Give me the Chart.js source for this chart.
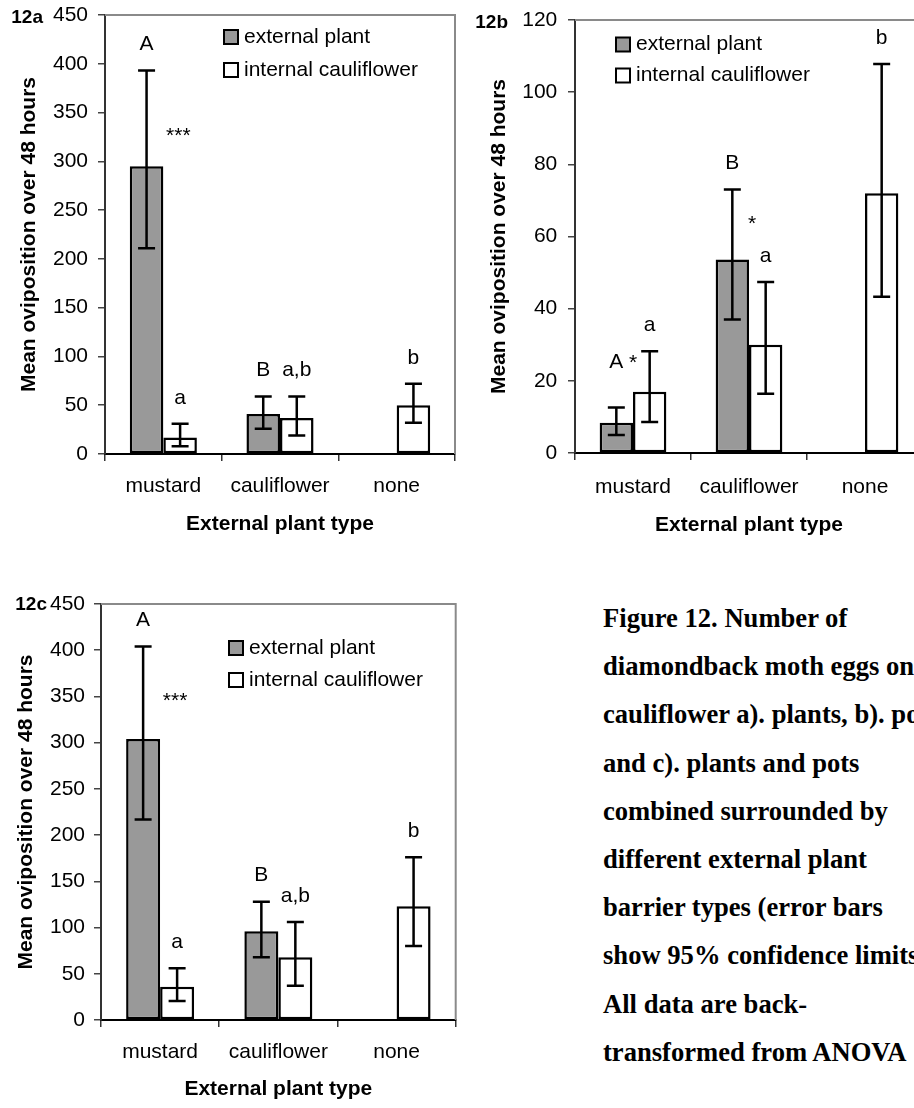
<!DOCTYPE html>
<html>
<head>
<meta charset="utf-8">
<script src="https://cdn.jsdelivr.net/npm/chart.js@4.4.1/dist/chart.umd.min.js"></script>
<style>
  html, body { margin: 0; padding: 0; background: #fff; }
  body { width: 914px; height: 1108px; overflow: hidden; position: relative; }
  canvas.panel { position: absolute; }
  #caption {
    position: absolute; left: 603px; top: 594px;
    font: bold 26.6px "Liberation Serif", "Times New Roman", serif;
    line-height: 48.2px; white-space: nowrap; color: #000;
  }
</style>
</head>
<body>
<canvas id="c12a" class="panel" width="460" height="560" style="left:0;top:0"></canvas>
<canvas id="c12b" class="panel" width="468" height="560" style="left:460px;top:0"></canvas>
<canvas id="c12c" class="panel" width="460" height="528" style="left:0;top:580px"></canvas>
<div id="caption">Figure 12. Number of<br>diamondback moth eggs on<br>cauliflower a). plants, b). pots<br>and c). plants and pots<br>combined surrounded by<br>different external plant<br>barrier types (error bars<br>show 95% confidence limits).<br>All data are back-<br>transformed from ANOVA</div>
<script>
// ---- data -------------------------------------------------------------
const categories = ['mustard', 'cauliflower', 'none'];
const seriesNames = ['external plant', 'internal cauliflower'];
const xTitle = 'External plant type';
const yTitle = 'Mean oviposition over 48 hours';

// 12a: eggs on plants
const plantsExternal     = [295, 41, null];
const plantsExternalLow  = [211, 26, null];
const plantsExternalHigh = [393, 59, null];
const plantsInternal     = [17, 37, 50];
const plantsInternalLow  = [8, 19, 32];
const plantsInternalHigh = [31, 59, 72];
const plantsExtLetters   = ['A', 'B', ''];
const plantsIntLetters   = ['a', 'a,b', 'b'];
const plantsSig          = ['***', '', ''];
const plantsAxisMax = 450, plantsAxisStep = 50;

// 12b: eggs on pots
const potsExternal     = [8.4, 53.6, null];
const potsExternalLow  = [5, 37, null];
const potsExternalHigh = [12.6, 73, null];
const potsInternal     = [17, 30, 72];
const potsInternalLow  = [8.6, 16.4, 43.3];
const potsInternalHigh = [28.2, 47.4, 107.8];
const potsExtLetters   = ['A', 'B', ''];
const potsIntLetters   = ['a', 'a', 'b'];
const potsSig          = ['*', '*', ''];
const potsAxisMax = 120, potsAxisStep = 20;

// 12c: plants and pots combined
const combinedExternal     = [304, 96, null];
const combinedExternalLow  = [217, 68, null];
const combinedExternalHigh = [404, 128, null];
const combinedInternal     = [36, 68, 123];
const combinedInternalLow  = [20.5, 37, 80];
const combinedInternalHigh = [56, 106, 176];
const combinedExtLetters   = ['A', 'B', ''];
const combinedIntLetters   = ['a', 'a,b', 'b'];
const combinedSig          = ['***', '', ''];
const combinedAxisMax = 450, combinedAxisStep = 50;

// ---- drawing helpers ---------------------------------------------------
const SANS = '"Liberation Sans", Arial, sans-serif';
const TXT = 21;

// error bars, group letters, significance stars, frame, legend, panel tag
const figureMarks = {
  id: 'figureMarks',
  beforeDatasetsDraw(chart, args, o) {
    const { ctx, chartArea: a } = chart;
    ctx.save();
    ctx.strokeStyle = '#8a8a8a';
    ctx.lineWidth = 2;
    ctx.beginPath();
    ctx.moveTo(a.left, a.top);
    ctx.lineTo(a.right, a.top);
    ctx.lineTo(a.right, a.bottom);
    ctx.stroke();
    ctx.restore();
  },
  afterDatasetsDraw(chart, args, o) {
    const { ctx, scales } = chart;
    const xs = scales.x, ys = scales.y;
    ctx.save();
    ctx.strokeStyle = '#000';
    ctx.fillStyle = '#000';
    ctx.lineWidth = 2.5;
    ctx.font = `${TXT}px ${SANS}`;
    ctx.textAlign = 'center';
    ctx.textBaseline = 'middle';
    chart.data.datasets.forEach((ds, di) => {
      const meta = chart.getDatasetMeta(di);
      meta.data.forEach((bar, i) => {
        if (ds.data[i] == null) return;
        const yHi = ys.getPixelForValue(ds.errHigh[i]);
        const yLo = ys.getPixelForValue(ds.errLow[i]);
        const cx = bar.x;
        ctx.beginPath();
        ctx.moveTo(cx, yHi); ctx.lineTo(cx, yLo);
        ctx.moveTo(cx - o.capHalf, yHi); ctx.lineTo(cx + o.capHalf, yHi);
        ctx.moveTo(cx - o.capHalf, yLo); ctx.lineTo(cx + o.capHalf, yLo);
        ctx.stroke();
        const letter = ds.letters[i];
        if (letter) {
          const ov = o.liftOverrides.find(l => l.dataset === di && l.index === i);
          const gap = ov ? ov.gap : o.letterGap;
          ctx.fillText(letter, cx, yHi - gap);
        }
      });
    });
    // significance stars between the paired bars
    o.marks.forEach((m, i) => {
      const at = o.markAt[i];
      if (!m || !at) return;
      ctx.fillText(m, xs.getPixelForValue(i) + at.dx, ys.getPixelForValue(at.value) + 5);
    });
    ctx.restore();
  },
  afterDraw(chart, args, o) {
    const { ctx, chartArea: a } = chart;
    ctx.save();
    // legend
    const lx = a.left + o.legend.dx;
    chart.data.datasets.forEach((ds, di) => {
      const cy = a.top + o.legend.rows[di];
      ctx.fillStyle = ds.backgroundColor;
      ctx.fillRect(lx, cy - 7, 14, 14);
      ctx.strokeStyle = '#000';
      ctx.lineWidth = 2;
      ctx.strokeRect(lx, cy - 7, 14, 14);
      ctx.fillStyle = '#000';
      ctx.font = `${TXT}px ${SANS}`;
      ctx.textAlign = 'left';
      ctx.textBaseline = 'middle';
      ctx.fillText(ds.label, lx + 20, cy);
    });
    // panel tag
    ctx.font = `bold 19px ${SANS}`;
    ctx.textAlign = 'right';
    ctx.textBaseline = 'middle';
    ctx.fillStyle = '#000';
    ctx.fillText(o.tag.text, o.tag.right, o.tag.y);
    ctx.restore();
  }
};

function makeChart(id, c) {
  return new Chart(document.getElementById(id), {
    type: 'bar',
    data: {
      labels: categories,
      datasets: [
        { label: seriesNames[0], data: c.ext, errLow: c.extLow, errHigh: c.extHigh, letters: c.extLetters,
          backgroundColor: '#999999', borderColor: '#000', borderWidth: 2.5, borderSkipped: false },
        { label: seriesNames[1], data: c.int, errLow: c.intLow, errHigh: c.intHigh, letters: c.intLetters,
          backgroundColor: '#ffffff', borderColor: '#000', borderWidth: 2.5, borderSkipped: false }
      ]
    },
    options: {
      responsive: false,
      animation: false,
      devicePixelRatio: 1,
      layout: { padding: { top: c.padTop, right: c.padRight, left: 0, bottom: 0 } },
      datasets: { bar: { barPercentage: 1, categoryPercentage: 0.575 } },
      plugins: {
        legend: { display: false },
        tooltip: { enabled: false },
        figureMarks: {
          capHalf: 8.5,
          letterGap: 26,
          liftOverrides: c.liftOverrides || [],
          marks: c.marks,
          markAt: c.markAt,
          legend: c.legend,
          tag: c.tag
        }
      },
      scales: {
        x: {
          offset: true,
          grid: { display: true, offset: true, drawOnChartArea: false, drawTicks: true, tickLength: 7, color: '#333', lineWidth: 1.5 },
          border: { display: true, color: '#000', width: 2 },
          ticks: { color: '#000', font: { family: SANS, size: TXT }, padding: c.xTickPad, maxRotation: 0 },
          title: { display: true, text: xTitle, color: '#000', font: { family: SANS, size: TXT, weight: 'bold' }, padding: { top: 0, bottom: c.xTitlePad } },
          afterFit: s => { s.height = c.xHeight; s.paddingLeft = 0; s.paddingRight = 0; }
        },
        y: {
          min: 0, max: c.max,
          grid: { display: true, drawOnChartArea: false, drawTicks: true, tickLength: 7, color: '#444', lineWidth: 1.5 },
          border: { display: true, color: '#333', width: 2 },
          ticks: { stepSize: c.step, color: '#000', font: { family: SANS, size: TXT }, padding: c.yTickPad },
          title: { display: true, text: yTitle, color: '#000', font: { family: SANS, size: TXT, weight: 'bold' }, padding: { top: c.yTitlePad, bottom: 0 } },
          afterFit: s => { s.width = c.yWidth; s.paddingTop = 0; s.paddingBottom = 0; }
        }
      }
    },
    plugins: [figureMarks]
  });
}

makeChart('c12a', {
  ext: plantsExternal, extLow: plantsExternalLow, extHigh: plantsExternalHigh, extLetters: plantsExtLetters,
  int: plantsInternal, intLow: plantsInternalLow, intHigh: plantsInternalHigh, intLetters: plantsIntLetters,
  marks: plantsSig, markAt: [{ value: 331, dx: 15 }, null, null],
  max: plantsAxisMax, step: plantsAxisStep,
  padTop: 15, padRight: 5, yWidth: 105, xHeight: 106,
  xTickPad: 12.4, xTitlePad: 23.4, yTickPad: 10, yTitlePad: 17,
  legend: { dx: 119, rows: [22, 55] },
  tag: { text: '12a', right: 43, y: 18 }
});

makeChart('c12b', {
  ext: potsExternal, extLow: potsExternalLow, extHigh: potsExternalHigh, extLetters: potsExtLetters,
  int: potsInternal, intLow: potsInternalLow, intHigh: potsInternalHigh, intLetters: potsIntLetters,
  marks: potsSig, markAt: [{ value: 26.3, dx: 0 }, { value: 64.9, dx: 3 }, null],
  liftOverrides: [{ dataset: 0, index: 0, gap: 45 }],
  max: potsAxisMax, step: potsAxisStep,
  padTop: 20, padRight: 5, yWidth: 115, xHeight: 107,
  xTickPad: 14.4, xTitlePad: 22.4, yTickPad: 10.7, yTitlePad: 27,
  legend: { dx: 41, rows: [24.5, 55.5] },
  tag: { text: '12b', right: 48, y: 23 }
});

makeChart('c12c', {
  ext: combinedExternal, extLow: combinedExternalLow, extHigh: combinedExternalHigh, extLetters: combinedExtLetters,
  int: combinedInternal, intLow: combinedInternalLow, intHigh: combinedInternalHigh, intLetters: combinedIntLetters,
  marks: combinedSig, markAt: [{ value: 350, dx: 15 }, null, null],
  max: combinedAxisMax, step: combinedAxisStep,
  padTop: 24, padRight: 4.3, yWidth: 101, xHeight: 88,
  xTickPad: 12.4, xTitlePad: 6.4, yTickPad: 9, yTitlePad: 13.5,
  legend: { dx: 128, rows: [44, 76] },
  tag: { text: '12c', right: 47, y: 25 }
});
</script>
</body>
</html>
